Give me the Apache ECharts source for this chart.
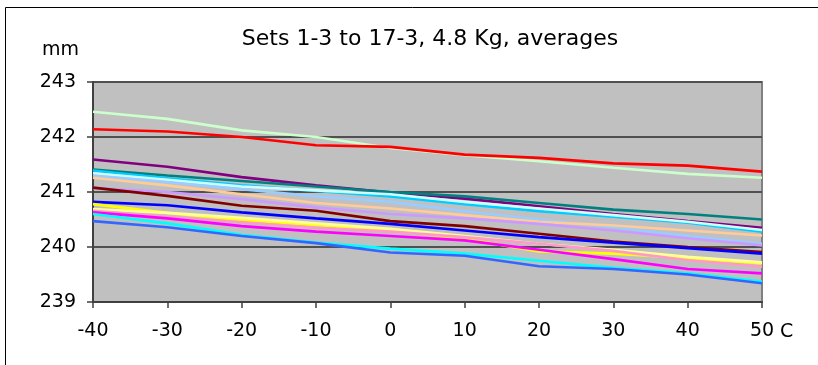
<!DOCTYPE html>
<html>
<head>
<meta charset="utf-8">
<script src="https://cdn.jsdelivr.net/npm/echarts@6/dist/echarts.min.js"></script>
<style>
  html, body { margin: 0; padding: 0; background: #fff; }
  #chart { width: 818px; height: 365px; }
</style>
</head>
<body>
<div id="chart"></div>
<script>
  // temperatures (C)
  var temps = [-40, -30, -20, -10, 0, 10, 20, 30, 40, 50]
  var yTicks = [239, 240, 241, 242, 243]

  // averages per set, mm
  var lightGreen = [242.46, 242.33, 242.12, 242.0, 241.8, 241.67, 241.56, 241.44, 241.33, 241.26]
  var red = [242.14, 242.1, 242.0, 241.85, 241.82, 241.68, 241.62, 241.52, 241.48, 241.37]
  var purple = [241.59, 241.46, 241.27, 241.12, 240.99, 240.88, 240.74, 240.6, 240.47, 240.35]
  var teal = [241.41, 241.3, 241.2, 241.1, 241.0, 240.92, 240.8, 240.68, 240.6, 240.5]
  var skyBlue = [241.39, 241.25, 241.12, 241.02, 240.92, 240.78, 240.65, 240.55, 240.44, 240.28]
  var paleTurq = [241.34, 241.22, 241.1, 241.03, 240.96, 240.82, 240.7, 240.58, 240.46, 240.31]
  var paleBlue = [241.3, 241.18, 241.05, 240.92, 240.82, 240.65, 240.5, 240.36, 240.2, 240.06]
  var tan = [241.26, 241.12, 240.96, 240.8, 240.7, 240.58, 240.46, 240.39, 240.3, 240.21]
  var lavender = [241.07, 241.0, 240.87, 240.72, 240.6, 240.52, 240.42, 240.3, 240.16, 240.03]
  var darkRed = [241.08, 240.93, 240.75, 240.66, 240.47, 240.38, 240.24, 240.1, 240.0, 239.91]
  var blue = [240.82, 240.76, 240.63, 240.52, 240.42, 240.3, 240.18, 240.08, 239.98, 239.88]
  var yellow = [240.78, 240.62, 240.49, 240.4, 240.3, 240.15, 239.92, 239.88, 239.8, 239.7]
  var lightYellow = [240.69, 240.62, 240.53, 240.43, 240.33, 240.2, 240.06, 239.95, 239.82, 239.72]
  var pink = [240.66, 240.55, 240.45, 240.35, 240.28, 240.18, 240.06, 239.93, 239.76, 239.64]
  var magenta = [240.63, 240.52, 240.38, 240.28, 240.2, 240.12, 239.95, 239.78, 239.6, 239.52]
  var turquoise = [240.6, 240.43, 240.22, 240.08, 239.97, 239.88, 239.75, 239.62, 239.52, 239.37]
  var royalBlue = [240.47, 240.36, 240.2, 240.07, 239.9, 239.84, 239.65, 239.6, 239.5, 239.34]

  var sets = [
    ['lightGreen', lightGreen, '#ccffcc'],
    ['red', red, '#ff0000'],
    ['purple', purple, '#800080'],
    ['teal', teal, '#008080'],
    ['skyBlue', skyBlue, '#00ccff'],
    ['paleTurq', paleTurq, '#ccffff'],
    ['paleBlue', paleBlue, '#99ccff'],
    ['tan', tan, '#ffcc99'],
    ['lavender', lavender, '#cc99ff'],
    ['darkRed', darkRed, '#800000'],
    ['blue', blue, '#0000ff'],
    ['yellow', yellow, '#ffff00'],
    ['lightYellow', lightYellow, '#ffff99'],
    ['pink', pink, '#ff99cc'],
    ['magenta', magenta, '#ff00ff'],
    ['turquoise', turquoise, '#00ffff'],
    ['royalBlue', royalBlue, '#3366ff'],
  ]

  function getSeries () {
    var series = []
    for (var i = 0; i < sets.length; i++) {
      var vals = sets[i][1]
      series.push({
        name: sets[i][0],
        type: 'line',
        showSymbol: false,
        symbol: 'none',
        data: temps.map(function (t, j) { return [t, vals[j]] }),
        lineStyle: { color: sets[i][2], width: 2.6 },
        itemStyle: { color: sets[i][2] },
      })
    }
    return series
  }

  var font = 'DejaVu Sans, Liberation Sans, sans-serif'
  var chart = echarts.init(document.getElementById('chart'))
  var option = {
    animation: false,
    textStyle: { fontFamily: font },
    title: {
      text: 'Sets 1-3 to 17-3, 4.8 Kg, averages',
      left: 425,
      top: 23,
      textAlign: 'center',
      textStyle: { fontSize: 22, fontWeight: 'normal', color: '#000', fontFamily: font },
    },
    graphic: [{
      type: 'rect',
      shape: { x: 5.5, y: 7.5, width: 900, height: 500 },
      style: { fill: 'none', stroke: '#000', lineWidth: 1 },
      silent: true,
      z: -10,
    }],
    grid: {
      left: 93,
      right: 56,
      top: 82,
      bottom: 63,
      show: true,
      backgroundColor: '#c0c0c0',
      borderColor: '#808080',
      borderWidth: 2,
    },
    xAxis: {
      type: 'value',
      min: -40,
      max: 50,
      interval: 10,
      name: 'C',
      nameLocation: 'end',
      nameGap: 13,
      nameTextStyle: { fontSize: 19, color: '#000', verticalAlign: 'top', padding: [21, 0, 0, 0] },
      axisLine: { onZero: false, lineStyle: { color: '#404040', width: 2 } },
      axisTick: { show: true, length: 6, lineStyle: { color: '#404040', width: 1.5 } },
      axisLabel: { fontSize: 19, color: '#000', margin: 20 },
      splitLine: { show: false },
    },
    yAxis: {
      type: 'value',
      min: yTicks[0],
      max: yTicks[yTicks.length - 1],
      interval: 1,
      name: 'mm',
      nameLocation: 'end',
      nameGap: 22,
      nameTextStyle: { fontSize: 19, color: '#000', align: 'right', padding: [0, 14, 0, 0] },
      axisLine: { show: true, onZero: false, lineStyle: { color: '#404040', width: 2 } },
      axisTick: { show: true, length: 6, lineStyle: { color: '#404040', width: 1.5 } },
      axisLabel: { fontSize: 19, color: '#000', margin: 17 },
      splitLine: { show: true, lineStyle: { color: '#505050', width: 2 } },
    },
    series: getSeries(),
  }
  chart.setOption(option)
</script>
</body>
</html>
